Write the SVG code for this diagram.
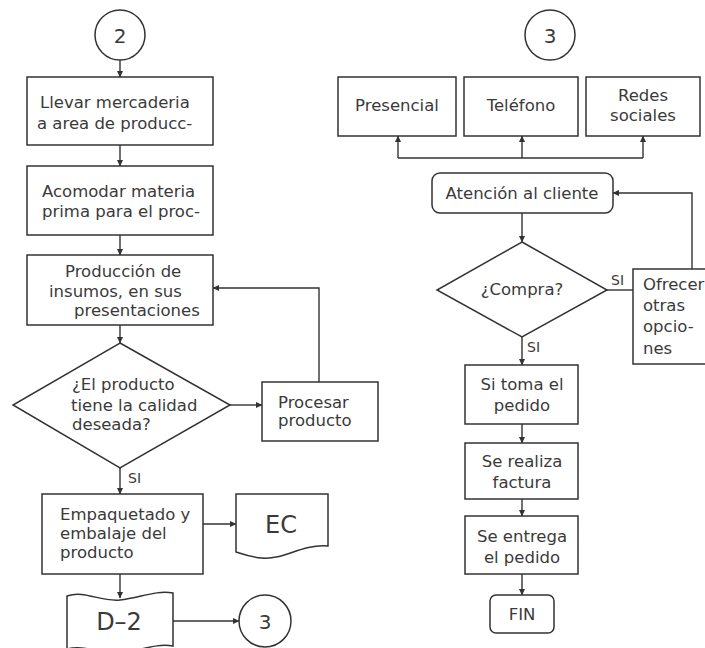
<svg xmlns="http://www.w3.org/2000/svg" width="705" height="648" viewBox="0 0 705 648">
<style>
.s{fill:#fff;stroke:#333;stroke-width:1.5}
.c{fill:none;stroke:#333;stroke-width:1.4}
text{font-family:"DejaVu Sans","Liberation Sans",sans-serif;font-size:16.5px;fill:#3a3a3a}
.m{text-anchor:middle}
.big{font-size:24px}
.num{font-size:20px}
.lab{font-size:14px}
</style>
<defs>
<marker id="ah" markerWidth="7" markerHeight="7" refX="6" refY="3.5" orient="auto" markerUnits="userSpaceOnUse">
<path d="M0,0.5 L6.5,3.5 L0,6.5 Z" fill="#333"/>
</marker>
</defs>
<rect width="705" height="648" fill="#fff"/>

<g id="connectors">
<path class="c" d="M120,60 L120,77" marker-end="url(#ah)"/>
<path class="c" d="M120,145 L120,166" marker-end="url(#ah)"/>
<path class="c" d="M120,235 L120,255" marker-end="url(#ah)"/>
<path class="c" d="M120,325 L120,343" marker-end="url(#ah)"/>
<path class="c" d="M230,405 L262,405" marker-end="url(#ah)"/>
<path class="c" d="M319,382 L319,288 L213,288" marker-end="url(#ah)"/>
<path class="c" d="M120,468 L120,494" marker-end="url(#ah)"/>
<path class="c" d="M203,524 L236,524" marker-end="url(#ah)"/>
<path class="c" d="M120,574 L120,598" marker-end="url(#ah)"/>
<path class="c" d="M173,621 L239,621" marker-end="url(#ah)"/>
<path class="c" d="M398,158 L643,158"/>
<path class="c" d="M398,158 L398,136" marker-end="url(#ah)"/>
<path class="c" d="M522,158 L522,136" marker-end="url(#ah)"/>
<path class="c" d="M643,158 L643,136" marker-end="url(#ah)"/>
<path class="c" d="M522,213 L522,242" marker-end="url(#ah)"/>
<path class="c" d="M607,290 L633,290"/>
<path class="c" d="M692,269 L692,193 L613,193" marker-end="url(#ah)"/>
<path class="c" d="M522,337 L522,365" marker-end="url(#ah)"/>
<path class="c" d="M522,424 L522,443" marker-end="url(#ah)"/>
<path class="c" d="M522,499 L522,516" marker-end="url(#ah)"/>
<path class="c" d="M522,574 L522,595" marker-end="url(#ah)"/>
<text class="lab" x="128" y="483">SI</text>
<text class="lab" x="611" y="285">SI</text>
<text class="lab" x="527" y="352">SI</text>
</g>

<g id="c2">
<circle class="s" cx="120" cy="35" r="25"/>
<text class="m num" x="120" y="43">2</text>
</g>
<g id="llevar">
<rect class="s" x="27" y="77" width="186" height="68"/>
<text x="40" y="108">Llevar mercaderia</text>
<text x="37" y="129">a area de producc-</text>
</g>
<g id="acomodar">
<rect class="s" x="27" y="166" width="186" height="69"/>
<text x="42" y="197">Acomodar materia</text>
<text x="42" y="217">prima para el proc-</text>
</g>
<g id="produccion">
<rect class="s" x="27" y="255" width="186" height="70"/>
<text x="65" y="277">Producción de</text>
<text x="49" y="297">insumos, en sus</text>
<text x="74" y="316">presentaciones</text>
</g>
<g id="calidad">
<polygon class="s" points="120,343 230,405 120,468 13,405"/>
<text x="72" y="390">¿El producto</text>
<text x="71" y="411">tiene la calidad</text>
<text x="72" y="430">deseada?</text>
</g>
<g id="procesar">
<rect class="s" x="262" y="382" width="116" height="59"/>
<text x="278" y="408">Procesar</text>
<text x="278" y="426">producto</text>
</g>
<g id="empaquetado">
<rect class="s" x="42" y="494" width="161" height="80"/>
<text x="60" y="520">Empaquetado y</text>
<text x="60" y="539">embalaje del</text>
<text x="60" y="558">producto</text>
</g>
<g id="ec">
<path class="s" d="M236,494 L328,494 L328,546 C300,544 285,560 262,558 C250,557 242,554 236,552 Z"/>
<text class="m big" x="281" y="533">EC</text>
</g>
<g id="d2">
<path class="s" d="M67,596 C85,590 100,602 120,600 C140,598 155,590 173,593 L173,646 C155,643 140,651 120,653 C100,655 85,644 67,649 Z"/>
<text class="m big" x="119" y="630">D–2</text>
</g>
<g id="c3b">
<circle class="s" cx="265" cy="621" r="26"/>
<text class="m num" x="265" y="629">3</text>
</g>

<g id="c3t">
<circle class="s" cx="550" cy="35" r="25"/>
<text class="m num" x="550" y="43">3</text>
</g>
<g id="presencial">
<rect class="s" x="338" y="77" width="118" height="59"/>
<text class="m" x="397" y="111">Presencial</text>
</g>
<g id="telefono">
<rect class="s" x="464" y="77" width="114" height="59"/>
<text class="m" x="521" y="111">Teléfono</text>
</g>
<g id="redes">
<rect class="s" x="586" y="77" width="114" height="59"/>
<text class="m" x="643" y="101">Redes</text>
<text class="m" x="643" y="121">sociales</text>
</g>
<g id="atencion">
<rect class="s" x="432" y="173" width="181" height="40" rx="8"/>
<text class="m" x="522" y="199">Atención al cliente</text>
</g>
<g id="compra">
<polygon class="s" points="522,242 607,290 522,337 437,290"/>
<text class="m" x="522" y="295">¿Compra?</text>
</g>
<g id="ofrecer">
<rect class="s" x="633" y="269" width="90" height="95"/>
<text x="643" y="290">Ofrecer</text>
<text x="643" y="311">otras</text>
<text x="643" y="332">opcio-</text>
<text x="643" y="354">nes</text>
</g>
<g id="sitoma">
<rect class="s" x="465" y="365" width="113" height="59"/>
<text class="m" x="522" y="390">Si toma el</text>
<text class="m" x="522" y="411">pedido</text>
</g>
<g id="factura">
<rect class="s" x="465" y="443" width="113" height="56"/>
<text class="m" x="522" y="467">Se realiza</text>
<text class="m" x="522" y="488">factura</text>
</g>
<g id="entrega">
<rect class="s" x="465" y="516" width="113" height="58"/>
<text class="m" x="522" y="542">Se entrega</text>
<text class="m" x="522" y="563">el pedido</text>
</g>
<g id="fin">
<rect class="s" x="490" y="595" width="64" height="38" rx="6"/>
<text class="m" x="522" y="620">FIN</text>
</g>
</svg>
